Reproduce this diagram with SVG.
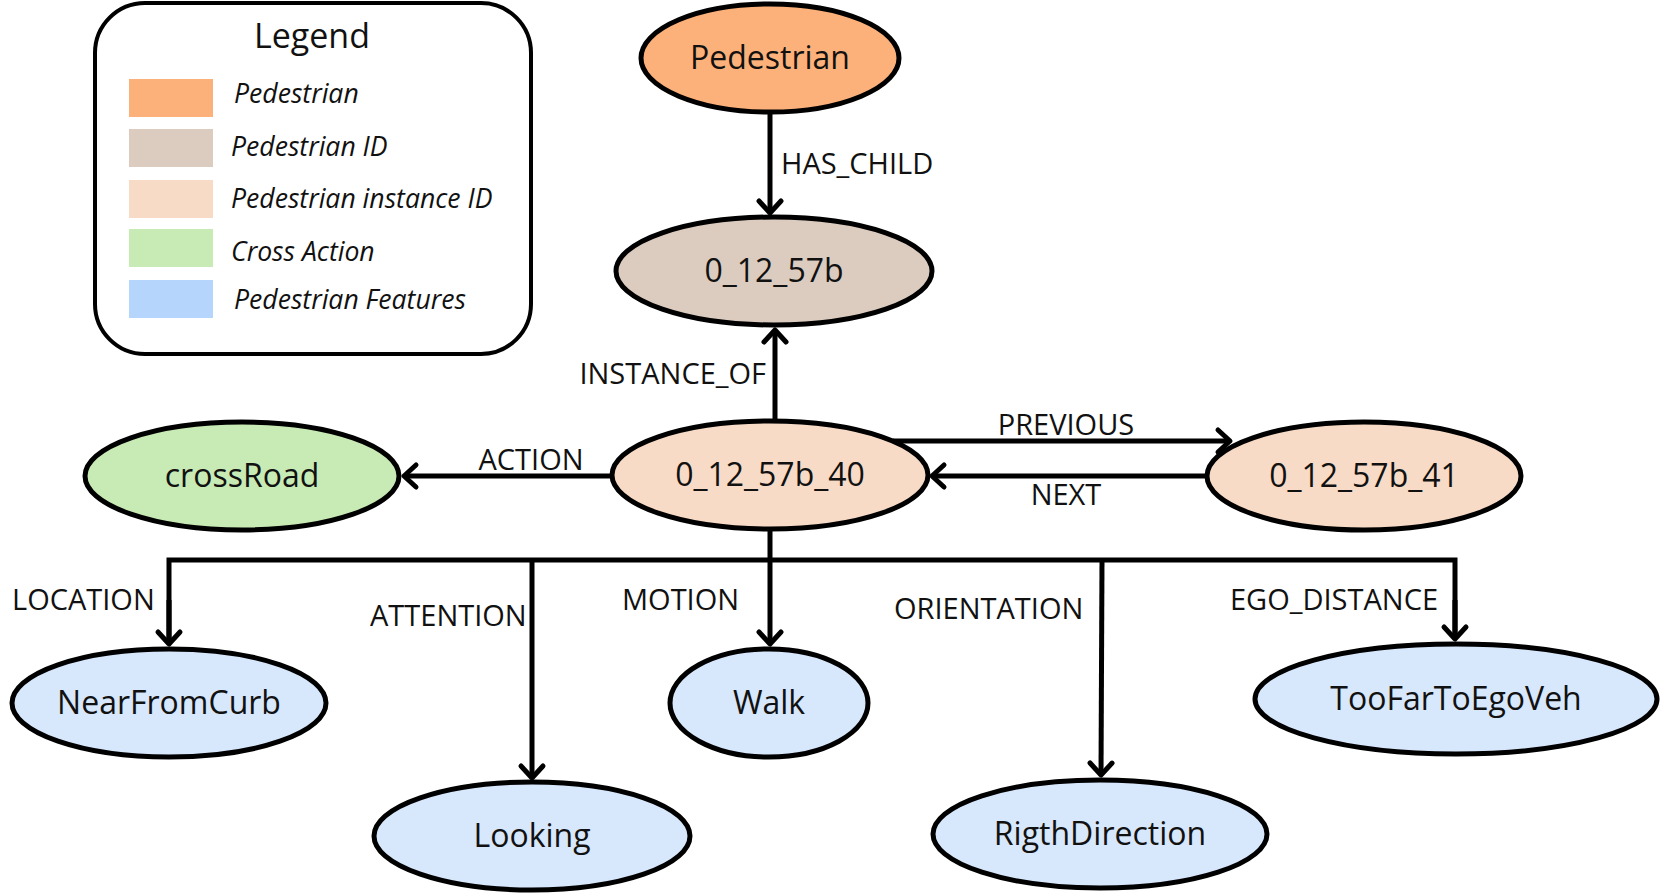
<svg xmlns="http://www.w3.org/2000/svg" width="1661" height="896" viewBox="0 0 1661 896">
<style>
.node{stroke:#000;stroke-width:5}
.nt{font-family:"Open Sans","Noto Sans",sans-serif;font-size:32px;text-anchor:middle;fill:#111}
.el{font-family:"Open Sans","Noto Sans",sans-serif;font-size:29px;fill:#111}
.lg{font-family:"Open Sans","Noto Sans",sans-serif;font-size:26.6px;font-style:italic;fill:#111}
.cn{fill:none;stroke:#000;stroke-width:5}
</style>
<defs>
<marker id="arr" markerUnits="userSpaceOnUse" markerWidth="40" markerHeight="40" viewBox="-20 -20 40 40" refX="0" refY="0" orient="auto">
<path d="M-12,-11 L0,0 L-12,11" fill="none" stroke="#000" stroke-width="5" stroke-linecap="round" stroke-linejoin="round"/>
</marker>
</defs>
<rect width="1661" height="896" fill="#fff"/>
<g id="legend">
<rect x="95" y="3" width="436" height="351" rx="50" ry="50" fill="#fff" stroke="#000" stroke-width="4"/>
<text x="312" y="48" font-family="Open Sans, Noto Sans, sans-serif" font-size="34" text-anchor="middle" fill="#111">Legend</text>
<rect x="129" y="79" width="84" height="38" fill="#FDB17A"/>
<rect x="129" y="129" width="84" height="38" fill="#DCCCBF"/>
<rect x="129" y="180" width="84" height="38" fill="#F8DBC6"/>
<rect x="129" y="229" width="84" height="38" fill="#C8EAB5"/>
<rect x="129" y="280" width="84" height="38" fill="#B5D5FC"/>
<text class="lg" x="234" y="103">Pedestrian</text>
<text class="lg" x="231" y="156">Pedestrian ID</text>
<text class="lg" x="231" y="208">Pedestrian instance ID</text>
<text class="lg" x="231" y="261">Cross Action</text>
<text class="lg" x="234" y="309">Pedestrian Features</text>
</g>
<g id="connectors">
<line class="cn" x1="770" y1="113" x2="770" y2="213" marker-end="url(#arr)"/>
<text class="el" x="781" y="174">HAS_CHILD</text>
<line class="cn" x1="775" y1="420" x2="775" y2="330" marker-end="url(#arr)"/>
<text class="el" x="766" y="384" text-anchor="end">INSTANCE_OF</text>
<line class="cn" x1="893" y1="441" x2="1230" y2="441" marker-end="url(#arr)"/>
<text class="el" x="1066" y="435" text-anchor="middle">PREVIOUS</text>
<line class="cn" x1="1207" y1="476" x2="932" y2="476" marker-end="url(#arr)"/>
<text class="el" x="1066" y="505" text-anchor="middle">NEXT</text>
<line class="cn" x1="611" y1="476" x2="404" y2="476" marker-end="url(#arr)"/>
<text class="el" x="531" y="470" text-anchor="middle">ACTION</text>
<line class="cn" x1="770" y1="530" x2="770" y2="560"/>
<polyline class="cn" points="169,644 169,560 1455,560 1455,639" stroke-linejoin="miter"/>
<line class="cn" x1="169" y1="600" x2="169" y2="644" marker-end="url(#arr)"/>
<line class="cn" x1="1455" y1="600" x2="1455" y2="639" marker-end="url(#arr)"/>
<text class="el" x="12" y="610">LOCATION</text>
<line class="cn" x1="532" y1="560" x2="532" y2="778" marker-end="url(#arr)"/>
<text class="el" x="370" y="626">ATTENTION</text>
<line class="cn" x1="770" y1="560" x2="770" y2="644" marker-end="url(#arr)"/>
<text class="el" x="622" y="610">MOTION</text>
<line class="cn" x1="1102" y1="560" x2="1101" y2="775" marker-end="url(#arr)"/>
<text class="el" x="894" y="619">ORIENTATION</text>
<text class="el" x="1230" y="610">EGO_DISTANCE</text>
</g>
<g id="n-pedestrian"><ellipse class="node" cx="770" cy="58" rx="129" ry="54" fill="#FDB17A"/><text class="nt" x="770" y="69">Pedestrian</text></g>
<g id="n-id"><ellipse class="node" cx="774" cy="271" rx="158" ry="54" fill="#DCCCBF"/><text class="nt" x="774" y="282">0_12_57b</text></g>
<g id="n-inst40"><ellipse class="node" cx="770" cy="475" rx="158" ry="54" fill="#F8DBC6"/><text class="nt" x="770" y="486">0_12_57b_40</text></g>
<g id="n-inst41"><ellipse class="node" cx="1364" cy="476" rx="157" ry="54" fill="#F8DBC6"/><text class="nt" x="1364" y="487">0_12_57b_41</text></g>
<g id="n-crossroad"><ellipse class="node" cx="242" cy="476" rx="157" ry="54" fill="#C8EAB5"/><text class="nt" x="242" y="487">crossRoad</text></g>
<g id="n-nearfromcurb"><ellipse class="node" cx="169" cy="703" rx="157" ry="54" fill="#D7E7FC"/><text class="nt" x="169" y="714">NearFromCurb</text></g>
<g id="n-looking"><ellipse class="node" cx="532" cy="836" rx="158" ry="54" fill="#D7E7FC"/><text class="nt" x="532" y="847">Looking</text></g>
<g id="n-walk"><ellipse class="node" cx="769" cy="703" rx="99" ry="54" fill="#D7E7FC"/><text class="nt" x="769" y="714">Walk</text></g>
<g id="n-rigthdirection"><ellipse class="node" cx="1100" cy="834" rx="167" ry="54" fill="#D7E7FC"/><text class="nt" x="1100" y="845">RigthDirection</text></g>
<g id="n-toofar"><ellipse class="node" cx="1456" cy="699" rx="201" ry="55" fill="#D7E7FC"/><text class="nt" x="1456" y="710">TooFarToEgoVeh</text></g>
</svg>
